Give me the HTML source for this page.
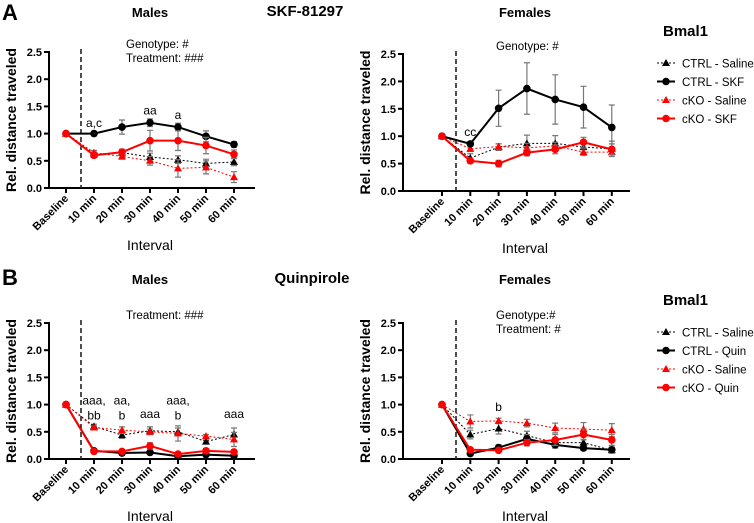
<!DOCTYPE html>
<html><head><meta charset="utf-8"><style>
body{margin:0;background:#fff;}
svg{display:block;font-family:"Liberation Sans",Arial,sans-serif;}
</style></head><body>
<svg id="fig" width="754" height="523" viewBox="0 0 754 523"></svg>
<script>
const categories=["Baseline","10 min","20 min","30 min","40 min","50 min","60 min"];
const yTicks=[0,0.5,1.0,1.5,2.0,2.5];
const yTickLabels=["0.0","0.5","1.0","1.5","2.0","2.5"];
// Panel A males
const aM_ctrlSal=[1,0.62,0.65,0.57,0.52,0.45,0.48];
const aM_ctrlSalErr=[0,0.04,0.06,0.07,0.07,0.08,0.07];
const aM_ctrlDrug=[1,1.0,1.12,1.2,1.12,0.95,0.8];
const aM_ctrlDrugErr=[0,0.04,0.13,0.07,0.07,0.1,0.05];
const aM_koSal=[1,0.65,0.58,0.5,0.36,0.38,0.2];
const aM_koSalErr=[0,0.04,0.05,0.08,0.16,0.12,0.1];
const aM_koDrug=[1,0.6,0.66,0.87,0.87,0.78,0.62];
const aM_koDrugErr=[0,0.04,0.05,0.19,0.18,0.15,0.08];
// Panel A females
const aF_ctrlSal=[1,0.6,0.8,0.87,0.87,0.8,0.77];
const aF_ctrlSalErr=[0,0.08,0.06,0.15,0.14,0.1,0.14];
const aF_ctrlDrug=[1,0.86,1.51,1.87,1.67,1.53,1.16];
const aF_ctrlDrugErr=[0,0.03,0.33,0.47,0.45,0.38,0.41];
const aF_koSal=[1,0.77,0.81,0.79,0.82,0.71,0.71];
const aF_koSalErr=[0,0.05,0.05,0.08,0.07,0.06,0.05];
const aF_koDrug=[1,0.55,0.5,0.7,0.76,0.89,0.76];
const aF_koDrugErr=[0,0.04,0.06,0.06,0.08,0.09,0.1];
// Panel B males
const bM_ctrlSal=[1,0.6,0.44,0.52,0.5,0.32,0.45];
const bM_ctrlSalErr=[0,0.04,0.06,0.07,0.07,0.03,0.12];
const bM_ctrlDrug=[1,0.15,0.11,0.12,0.05,0.08,0.06];
const bM_ctrlDrugErr=[0,0.02,0.02,0.02,0.02,0.02,0.02];
const bM_koSal=[1,0.58,0.53,0.5,0.47,0.42,0.36];
const bM_koSalErr=[0,0.03,0.06,0.05,0.14,0.03,0.13];
const bM_koDrug=[1,0.14,0.14,0.24,0.09,0.15,0.13];
const bM_koDrugErr=[0,0.02,0.03,0.06,0.02,0.04,0.04];
// Panel B females
const bF_ctrlSal=[1,0.45,0.56,0.43,0.3,0.3,0.16];
const bF_ctrlSalErr=[0,0.08,0.1,0.08,0.06,0.06,0.05];
const bF_ctrlDrug=[1,0.1,0.21,0.37,0.26,0.2,0.17];
const bF_ctrlDrugErr=[0,0.03,0.05,0.08,0.06,0.04,0.05];
const bF_koSal=[1,0.69,0.7,0.66,0.57,0.55,0.53];
const bF_koSalErr=[0,0.12,0.05,0.07,0.09,0.12,0.12];
const bF_koDrug=[1,0.17,0.16,0.3,0.35,0.45,0.35];
const bF_koDrugErr=[0,0.04,0.04,0.06,0.1,0.1,0.1];

const NS="http://www.w3.org/2000/svg";
const svg=document.getElementById('fig');
function el(tag,attrs,parent,text){const e=document.createElementNS(NS,tag);for(const k in attrs)e.setAttribute(k,attrs[k]);if(text!==undefined)e.textContent=text;(parent||svg).appendChild(e);return e;}

function panel(o){
  const g=el('g',{});
  
  
  const x=i=>o.x0+i*o.dx;
  const y=v=>o.y0-(v/2.5)*(o.y0-o.y25);
  const ax=el('path',{d:`M${o.ax} ${o.y25-1}V${o.y0}H${o.axEnd}`,stroke:'#000','stroke-width':2,fill:'none'},g);
  
  
  yTicks.forEach((t,i)=>{
    el('line',{x1:o.ax-5,x2:o.ax,y1:y(t),y2:y(t),stroke:'#000','stroke-width':2},g);
    const tl=el('text',{x:o.ax-7,y:y(t)+4,'text-anchor':'end','font-size':11,'font-weight':'bold'},g,yTickLabels[i]);
    
    
  });
  categories.forEach((c,i)=>{
    el('line',{x1:x(i),x2:x(i),y1:o.y0,y2:o.y0+5,stroke:'#000','stroke-width':2},g);
    const tl=el('text',{x:x(i)+3,y:o.y0+11,'text-anchor':'end','font-size':11,'font-weight':'bold',transform:`rotate(-45 ${x(i)+3} ${o.y0+11})`},g,c);
    
    
  });
  const yl=el('text',{x:0,y:0,'text-anchor':'middle','font-size':14,'font-weight':'bold',transform:`translate(${o.ax-33} ${(o.y0+o.y25)/2}) rotate(-90)`},g,'Rel. distance traveled');
  
  
  const xl=el('text',{x:o.xlabX,y:o.y0+62,'text-anchor':'middle','font-size':14},g,'Interval');
  
  
  const dl=el('line',{x1:o.dash,x2:o.dash,y1:o.y25-3,y2:o.y0,stroke:'#222','stroke-width':1.6,'stroke-dasharray':'5,3'},g);
  
  
  const sers=[
    {v:o.s[0],e:o.e[0],c:'#000',dash:'2,2',w:1,tri:true,n:'series-ctrl-saline'},
    {v:o.s[2],e:o.e[2],c:'#f00',dash:'2,2',w:1,tri:true,n:'series-cko-saline'},
    {v:o.s[1],e:o.e[1],c:'#000',dash:null,w:2,tri:false,n:'series-ctrl-drug'},
    {v:o.s[3],e:o.e[3],c:'#f00',dash:null,w:2,tri:false,n:'series-cko-drug'}];
  sers.forEach(s=>{
    const sg=el('g',{},g);
    
    
    s.v.forEach((v,i)=>{
      if(s.e[i]>0){
        const t=y(v+s.e[i]),b=y(v-s.e[i]);
        el('path',{d:`M${x(i)} ${t}V${b}M${x(i)-3} ${t}H${x(i)+3}M${x(i)-3} ${b}H${x(i)+3}`,stroke:'#777','stroke-width':1.2,fill:'none'},sg);
      }
    });
    const pl=el('polyline',{points:s.v.map((v,i)=>x(i)+','+y(v)).join(' '),stroke:s.c,'stroke-width':s.w,fill:'none'},sg);
    if(s.dash)pl.setAttribute('stroke-dasharray',s.dash);
    s.v.forEach((v,i)=>{
      let m;
      if(s.tri) m=el('path',{d:`M${x(i)} ${y(v)-4}L${x(i)+4} ${y(v)+3}L${x(i)-4} ${y(v)+3}Z`,fill:s.c},sg);
      else m=el('circle',{cx:x(i),cy:y(v),r:3.8,fill:s.c},sg);
      
      
    });
  });
  o.ann.forEach(a=>{
    a.t.forEach((line,k)=>{
      const t=el('text',{x:x(a.i),y:y(a.v)+k*15,'text-anchor':'middle','font-size':12},g,line);
      
      
    });
  });
  o.stats.forEach((s,k)=>{
    const t=el('text',{x:o.statX,y:o.statY+k*14,'font-size':11.5},g,s);
    
    
  });
}
function txt(x,y,s,size,bold,anchor,name){const t=el('text',{x:x,y:y,'font-size':size,'font-weight':bold?'bold':'normal','text-anchor':anchor||'start'},svg,s);
  
  return t;}
function legend(x,y,names,title){
  const g=el('g',{});
  
  
  const t=el('text',{x:x+3,y:y-27,'font-size':15,'font-weight':'bold'},g,title);
  
  
  const st=[{c:'#000',tri:true},{c:'#000',tri:false},{c:'#f00',tri:true},{c:'#f00',tri:false}];
  names.forEach((n,i)=>{
    const yy=y+i*18.5, s=st[i];
    const eg=el('g',{},g);
    
    
    const l=el('line',{x1:x-3,x2:x+15,y1:yy,y2:yy,stroke:s.c,'stroke-width':s.tri?1:2},eg);
    if(s.tri)l.setAttribute('stroke-dasharray','2,2');
    if(s.tri)el('path',{d:`M${x+6} ${yy-4}L${x+10} ${yy+3}L${x+2} ${yy+3}Z`,fill:s.c},eg);
    else el('circle',{cx:x+6,cy:yy,r:3.8,fill:s.c},eg);
    el('text',{x:x+22,y:yy+4.5,'font-size':11.5},eg,n);
  });
}
txt(2,20,'A',22,true,'start','panel-label-a');
txt(2,285,'B',22,true,'start','panel-label-b');
txt(150,17,'Males',13,true,'middle','title-males-a');
txt(305,16,'SKF-81297',15,true,'middle','title-skf');
txt(525,17,'Females',13,true,'middle','title-females-a');
txt(150,284,'Males',13,true,'middle','title-males-b');
txt(312,283,'Quinpirole',15,true,'middle','title-quinpirole');
txt(525,284,'Females',13,true,'middle','title-females-b');

panel({name:'chart-a-males',ax:49,axEnd:255,x0:66,dx:28,y0:188,y25:52,dash:81,xlabX:150,
  s:[aM_ctrlSal,aM_ctrlDrug,aM_koSal,aM_koDrug],e:[aM_ctrlSalErr,aM_ctrlDrugErr,aM_koSalErr,aM_koDrugErr],
  ann:[{i:1,v:1.12,t:['a,c']},{i:3,v:1.35,t:['aa']},{i:4,v:1.27,t:['a']}],
  stats:['Genotype: #','Treatment: ###'],statX:126,statY:48});
panel({name:'chart-a-females',ax:403,axEnd:630,x0:442,dx:28.3,y0:191,y25:54,dash:456,xlabX:525,
  s:[aF_ctrlSal,aF_ctrlDrug,aF_koSal,aF_koDrug],e:[aF_ctrlSalErr,aF_ctrlDrugErr,aF_koSalErr,aF_koDrugErr],
  ann:[{i:1,v:1.0,t:['cc']}],
  stats:['Genotype: #'],statX:496,statY:50});
panel({name:'chart-b-males',ax:49,axEnd:255,x0:66,dx:28,y0:459,y25:323,dash:81,xlabX:150,
  s:[bM_ctrlSal,bM_ctrlDrug,bM_koSal,bM_koDrug],e:[bM_ctrlSalErr,bM_ctrlDrugErr,bM_koSalErr,bM_koDrugErr],
  ann:[{i:1,v:1.0,t:['aaa,','bb']},{i:2,v:1.0,t:['aa,','b']},{i:3,v:0.75,t:['aaa']},{i:4,v:1.0,t:['aaa,','b']},{i:6,v:0.75,t:['aaa']}],
  stats:['Treatment: ###'],statX:126,statY:319});
panel({name:'chart-b-females',ax:403,axEnd:630,x0:442,dx:28.3,y0:459,y25:323,dash:456,xlabX:525,
  s:[bF_ctrlSal,bF_ctrlDrug,bF_koSal,bF_koDrug],e:[bF_ctrlSalErr,bF_ctrlDrugErr,bF_koSalErr,bF_koDrugErr],
  ann:[{i:2,v:0.88,t:['b']}],
  stats:['Genotype:#','Treatment: #'],statX:496,statY:319});
legend(660,63,['CTRL - Saline','CTRL - SKF','cKO - Saline','cKO - SKF'],'Bmal1');
legend(660,332,['CTRL - Saline','CTRL - Quin','cKO - Saline','cKO - Quin'],'Bmal1');
</script>
</body></html>
